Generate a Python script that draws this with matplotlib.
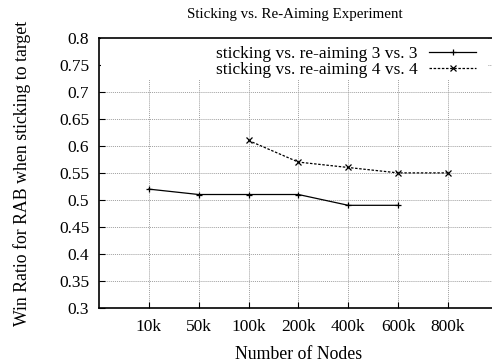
import matplotlib
matplotlib.use("Agg")
import matplotlib.pyplot as plt
from matplotlib.patches import Rectangle

plt.rcParams['font.family'] = 'Liberation Serif'

nodes = ["10k", "50k", "100k", "200k", "400k", "600k", "800k"]
pos = list(range(1, len(nodes) + 1))

# 3 vs. 3 runs: 10k .. 600k
stick3 = [0.52, 0.51, 0.51, 0.51, 0.49, 0.49]
# 4 vs. 4 runs: 100k .. 800k
stick4 = [0.61, 0.57, 0.56, 0.55, 0.55]

fig = plt.figure(figsize=(4.92, 3.64), dpi=100)
ax = fig.add_axes([0.201, 0.154, 0.811, 0.742])

ax.plot(pos[:len(stick3)], stick3, color='black', lw=0.9, marker='+', ms=5,
        mew=0.9, label="sticking vs. re-aiming 3 vs. 3", zorder=4)
ax.plot(pos[2:2 + len(stick4)], stick4, color='black', lw=0.9, ls=(0, (2, 1.3)),
        marker='x', ms=4, mew=0.9, label="sticking vs. re-aiming 4 vs. 4", zorder=4)

ax.set_xlim(0, 8)
ax.set_ylim(0.3, 0.8)
ax.set_xticks(pos)
ax.set_xticklabels(nodes)
yt = [0.3, 0.35, 0.4, 0.45, 0.5, 0.55, 0.6, 0.65, 0.7, 0.75, 0.8]
ax.set_yticks(yt)
ax.set_yticklabels(["0.3", "0.35", "0.4", "0.45", "0.5", "0.55", "0.6", "0.65", "0.7", "0.75", "0.8"])
ax.tick_params(direction='in', length=4, width=0.8, top=True, right=True,
               labelsize=12.5, pad=7, colors='black')
ax.tick_params(axis='x', pad=8)

ax.grid(True, color='#a0a0a0', ls=(0, (1, 1)), lw=0.7, zorder=1)
for s in ax.spines.values():
    s.set_linewidth(1.2)

# opaque key area over the grid
ax.add_patch(Rectangle((0.005, 0.844), 0.97, 0.156, transform=ax.transAxes,
                       facecolor='white', edgecolor='none', zorder=2))

leg = ax.legend(loc='upper right', bbox_to_anchor=(0.972, 1.01), frameon=False,
                markerfirst=False, fontsize=12.5, handlelength=2.7,
                handletextpad=0.7, labelspacing=0.0, borderaxespad=0.2)
leg.set_zorder(5)

ax.set_title("Sticking vs. Re-Aiming Experiment", fontsize=10.8, pad=14, x=0.49)
ax.set_xlabel("Number of Nodes", fontsize=12.8, labelpad=8)
ax.set_ylabel("Win Ratio for RAB when sticking to target", fontsize=12.8, labelpad=20)

fig.savefig("out.png", dpi=100)
